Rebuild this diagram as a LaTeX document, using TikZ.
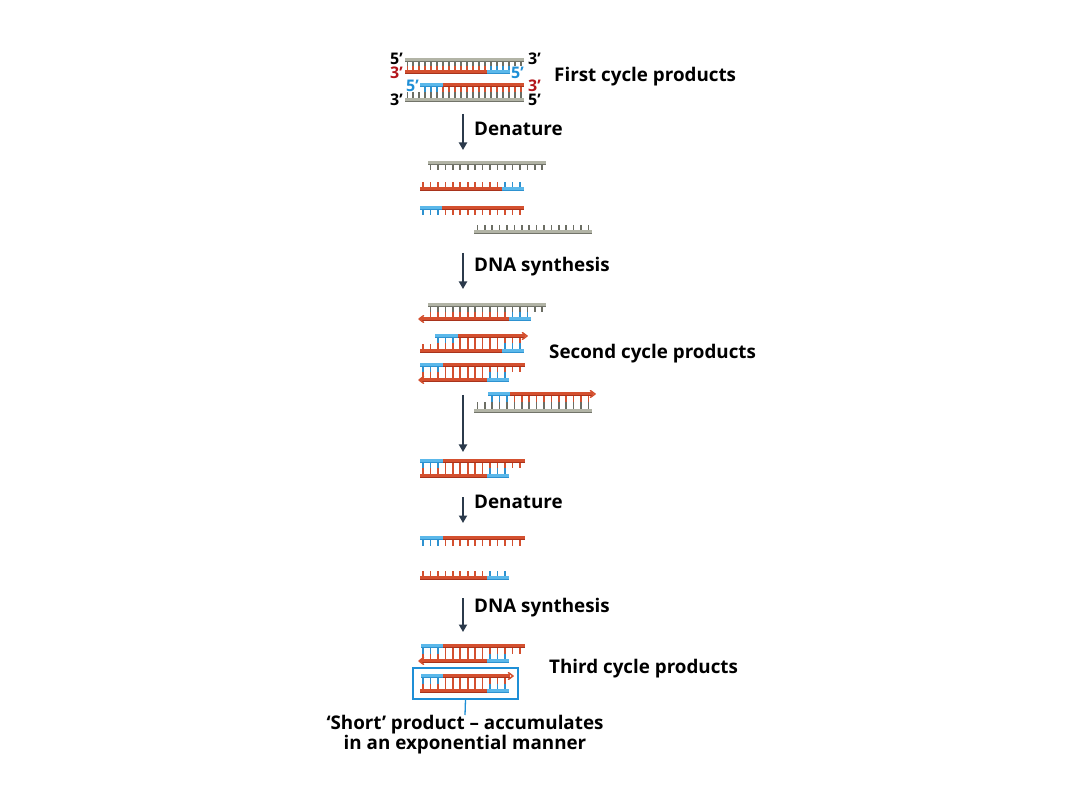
\documentclass[tikz,border=0pt]{standalone}
\usepackage{fontspec}
\setmainfont{Open Sans}
\usetikzlibrary{arrows.meta}
\definecolor{gB}{HTML}{B2B4A6}
\definecolor{gD}{HTML}{72746A}
\definecolor{gT}{HTML}{6C6E64}
\definecolor{rB}{HTML}{D4502F}
\definecolor{rD}{HTML}{A8331C}
\definecolor{bB}{HTML}{5BB8EA}
\definecolor{bD}{HTML}{2E92D0}
\definecolor{arrc}{HTML}{2B3A4B}
\definecolor{lblR}{HTML}{B3151B}
\definecolor{lblB}{HTML}{1F8FD6}
\definecolor{boxc}{HTML}{1F8FD6}
% strand bar: x1, x2, y, colour prefix (g/r/b)
\newcommand\sbar[4]{%
  \fill[#4B] (#1,#3-2.1) rectangle (#2,#3+2.1);
  \draw[#4D,line width=1.1] (#1,#3+1.6) -- (#2,#3+1.6);}
% ticks: base, step, kfrom, kto, y1, y2, colour
\newcommand\tks[7]{\foreach \k in {#3,...,#4}{\draw[tick,#7] ({#1+#2*\k},#5) -- ({#1+#2*\k},#6);}}
\newcommand\tkF[5]{\tks{407.3}{5.97}{#1}{#2}{#3}{#4}{#5}}
\newcommand\tkA[5]{\tks{423}{7.45}{#1}{#2}{#3}{#4}{#5}}
\newcommand\tkD[5]{\tks{477.3}{7.4}{#1}{#2}{#3}{#4}{#5}}
% chevron heads
\newcommand\headR[2]{\draw[rB,line width=1.5,line cap=round,line join=round] (#1-4.5,#2-3.3) -- (#1,#2) -- (#1-4.5,#2+3.3);}
\newcommand\headL[2]{\draw[rB,line width=1.5,line cap=round,line join=round] (#1+4.5,#2-3.3) -- (#1,#2) -- (#1+4.5,#2+3.3);}
\tikzset{
  tick/.style={line width=1.6},
  lbl/.style={inner sep=0pt,font=\bfseries\fontsize{18.8}{21}\selectfont},
  prime/.style={inner sep=0pt,font=\bfseries\fontsize{16}{17}\selectfont},
  stepArrow/.style={arrc,line width=2.3,-{Triangle[length=7.5,width=8]}},
}
\begin{document}
\begin{tikzpicture}[x=1pt,y=-1pt]
\useasboundingbox (0,0) rectangle (1080,810);
\fill[white] (0,0) rectangle (1080,810);

% ===== First cycle products =====
\tkF{0}{19}{61.5}{66.5}{gT}
\tkF{0}{13}{66.5}{71}{rB}
\tkF{14}{17}{66.5}{71}{bD}
\sbar{405}{524}{60}{g}
\sbar{405}{487}{72}{r}
\sbar{487}{510}{72}{b}
\tkF{0}{19}{98.5}{92.5}{gT}
\tkF{3}{5}{86.5}{92.5}{bD}
\tkF{6}{19}{86.5}{92.5}{rB}
\sbar{420}{443}{85}{b}
\sbar{443}{524}{85}{r}
\sbar{405}{524}{100}{g}
\node[prime,anchor=east] (p1) at (403,59) {5’};
\node[prime,anchor=east,text=lblR] (p2) at (403,73) {3’};
\node[prime,anchor=east,text=lblB] (p3) at (419,86) {5’};
\node[prime,anchor=east] (p4) at (403,100) {3’};
\node[prime,anchor=west] (p5) at (528,59) {3’};
\node[prime,anchor=west,text=lblB] (p6) at (511,73) {5’};
\node[prime,anchor=west,text=lblR] (p7) at (528,86) {3’};
\node[prime,anchor=west] (p8) at (528,100) {5’};
\node[lbl,anchor=west] (t1) at (554,77) {First cycle products};

\draw[stepArrow] (463,114) -- (463,150);
\node[lbl,anchor=west] (t2) at (474,129) {Denature};

% ===== Denatured strands =====
\tkA{1}{16}{164.5}{170.5}{gT}
\sbar{428}{546}{163}{g}
\tkA{0}{10}{187.5}{182}{rB}
\tkA{11}{13}{187.5}{182}{bD}
\sbar{420}{502}{189}{r}
\sbar{502}{524}{189}{b}
\tkA{0}{2}{209.5}{215}{bD}
\tkA{3}{13}{209.5}{215}{rB}
\sbar{420}{442}{208}{b}
\sbar{442}{524}{208}{r}
\tkD{0}{15}{230.5}{225}{gT}
\sbar{474}{592}{232}{g}

\draw[stepArrow] (463,253) -- (463,289);
\node[lbl,anchor=west] (t3) at (474,267) {DNA synthesis};

% ===== Second cycle products =====
% row A
\tkA{1}{16}{306.5}{312}{gT}
\tkA{1}{11}{312}{317.5}{rB}
\tkA{12}{14}{312}{317.5}{bD}
\sbar{428}{546}{305}{g}
\sbar{420}{509}{319}{r}
\sbar{509}{531}{319}{b}
\headL{419}{319}
% row B
\tkA{2}{4}{337.5}{343.5}{bD}
\tkA{5}{13}{337.5}{343.5}{rB}
\tkA{2}{10}{343.5}{349.5}{rB}
\tkA{0}{1}{344.5}{349.5}{rB}
\tkA{11}{13}{343.5}{349.5}{bD}
\sbar{435}{458}{336}{b}
\sbar{458}{525}{336}{r}
\headR{527}{336}
\sbar{420}{502}{351}{r}
\sbar{502}{524}{351}{b}
% row C
\tkA{0}{2}{366.5}{372.5}{bD}
\tkA{3}{13}{366.5}{372.5}{rB}
\tkA{0}{8}{372.5}{378.5}{rB}
\tkA{9}{11}{372.5}{378.5}{bD}
\sbar{420}{443}{365}{b}
\sbar{443}{525}{365}{r}
\sbar{420}{487}{380}{r}
\sbar{487}{509}{380}{b}
\headL{419}{380}
% row D
\tkD{2}{4}{395.5}{402.5}{bD}
\tkD{5}{15}{395.5}{402.5}{rB}
\tkD{0}{15}{409.5}{402.5}{gT}
\sbar{488}{510}{394}{b}
\sbar{510}{593}{394}{r}
\headR{595}{394}
\sbar{474}{592}{411}{g}
\node[lbl,anchor=west] (t4) at (549,354) {Second cycle products};

\draw[stepArrow] (463,395) -- (463,452);

% ===== row E =====
\tkA{0}{2}{462.5}{468.5}{bD}
\tkA{3}{13}{462.5}{468.5}{rB}
\tkA{0}{8}{468.5}{474.5}{rB}
\tkA{9}{11}{468.5}{474.5}{bD}
\sbar{420}{443}{461}{b}
\sbar{443}{525}{461}{r}
\sbar{420}{487}{476}{r}
\sbar{487}{509}{476}{b}

\draw[stepArrow] (463,497) -- (463,523);
\node[lbl,anchor=west] (t5) at (474,502) {Denature};

% ===== rows F, G =====
\tkA{0}{2}{539.5}{545.5}{bD}
\tkA{3}{13}{539.5}{545.5}{rB}
\sbar{420}{443}{538}{b}
\sbar{443}{525}{538}{r}
\tkA{0}{8}{576.5}{571}{rB}
\tkA{9}{11}{576.5}{571}{bD}
\sbar{420}{487}{578}{r}
\sbar{487}{509}{578}{b}

\draw[stepArrow] (463,598) -- (463,632);
\node[lbl,anchor=west] (t6) at (474,608) {DNA synthesis};

% ===== Third cycle products =====
% row H
\tkA{0}{2}{647.5}{653.5}{bD}
\tkA{3}{13}{647.5}{653.5}{rB}
\tkA{0}{8}{653.5}{659.5}{rB}
\tkA{9}{11}{653.5}{659.5}{bD}
\sbar{421}{443}{646}{b}
\sbar{443}{525}{646}{r}
\sbar{420}{487}{661}{r}
\sbar{487}{509}{661}{b}
\headL{419}{661}
% row I
\tkA{0}{2}{677.5}{683.5}{bD}
\tkA{3}{11}{677.5}{683.5}{rB}
\tkA{0}{8}{683.5}{689.5}{rB}
\tkA{9}{11}{683.5}{689.5}{bD}
\sbar{421}{443}{676}{b}
\sbar{443}{510}{676}{r}
\headR{513}{676}
\sbar{420}{487}{691}{r}
\sbar{487}{509}{691}{b}
\node[lbl,anchor=west] (t7) at (549,669) {Third cycle products};

\node[draw=boxc,line width=1.3,minimum width=105,minimum height=31,inner sep=0] (box) at (465.5,683.5) {};
\node[lbl,align=center,font=\bfseries\fontsize{18.8}{20.5}\selectfont,anchor=north] (note) at (465,715) {‘Short’ product – accumulates\\in an exponential manner};
\draw[boxc,line width=1.3] (box.south) -- (note.north);
\end{tikzpicture}
\end{document}
